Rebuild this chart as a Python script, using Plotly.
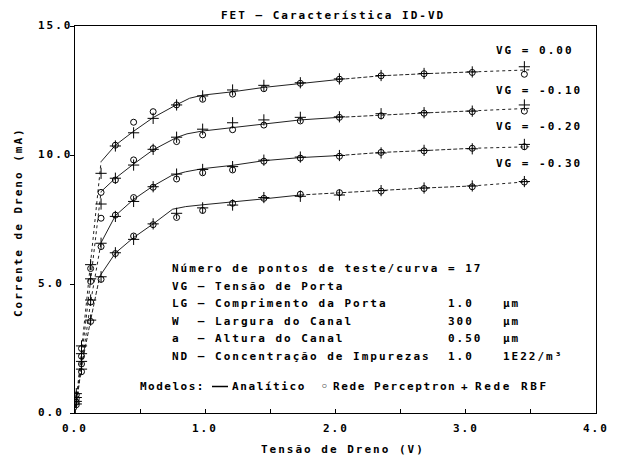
import plotly.graph_objects as go

# ---------------- data ----------------
vd_test = [0.01, 0.05, 0.12, 0.20, 0.31, 0.45, 0.60, 0.78, 0.98, 1.21, 1.45, 1.73, 2.03, 2.35, 2.68, 3.05, 3.45]

rbf_vg0 = [0.75, 2.6, 5.75, 9.29, 10.35, 10.86, 11.42, 11.94, 12.29, 12.52, 12.70, 12.80, 12.95, 13.08, 13.16, 13.22, 13.42]
per_vg0 = [0.70, 2.5, 5.60, 8.55, 10.38, 11.27, 11.68, 11.94, 12.16, 12.36, 12.57, 12.78, 12.94, 13.07, 13.15, 13.20, 13.13]
rbf_vg1 = [0.60, 2.3, 5.20, 8.10, 9.10, 9.61, 10.22, 10.69, 11.00, 11.25, 11.36, 11.46, 11.48, 11.60, 11.64, 11.70, 11.94]
per_vg1 = [0.55, 2.2, 5.10, 7.55, 9.03, 9.81, 10.25, 10.52, 10.78, 10.98, 11.16, 11.32, 11.46, 11.52, 11.62, 11.68, 11.70]
rbf_vg2 = [0.45, 2.0, 4.38, 6.58, 7.62, 8.20, 8.77, 9.26, 9.44, 9.55, 9.80, 9.92, 9.98, 10.08, 10.18, 10.24, 10.41]
per_vg2 = [0.42, 1.9, 4.30, 6.45, 7.67, 8.35, 8.75, 9.07, 9.31, 9.42, 9.76, 9.88, 9.95, 10.10, 10.16, 10.26, 10.32]
rbf_vg3 = [0.35, 1.7, 3.60, 5.28, 6.21, 6.73, 7.33, 7.74, 7.95, 8.06, 8.35, 8.40, 8.45, 8.62, 8.72, 8.80, 8.97]
per_vg3 = [0.32, 1.6, 3.55, 5.18, 6.18, 6.86, 7.30, 7.58, 7.85, 8.13, 8.32, 8.48, 8.54, 8.60, 8.70, 8.77, 8.95]

ana_v_vg0 = [0, 0.12, 0.20, 0.31, 0.45, 0.60, 0.78, 0.88, 0.98, 1.21, 1.45, 1.73, 2.03, 2.35, 2.68, 3.05, 3.49]
ana_i_vg0 = [0, 5.9, 9.74, 10.38, 10.92, 11.45, 11.95, 12.20, 12.32, 12.45, 12.62, 12.78, 12.93, 13.07, 13.15, 13.22, 13.30]
ana_v_vg1 = [0, 0.12, 0.20, 0.31, 0.45, 0.60, 0.78, 0.86, 0.98, 1.21, 1.45, 1.73, 2.03, 2.35, 2.68, 3.05, 3.49]
ana_i_vg1 = [0, 5.2, 8.58, 9.10, 9.65, 10.20, 10.68, 10.82, 10.93, 11.05, 11.20, 11.36, 11.46, 11.55, 11.63, 11.71, 11.81]
ana_v_vg2 = [0, 0.12, 0.20, 0.31, 0.45, 0.60, 0.74, 0.85, 0.98, 1.21, 1.45, 1.73, 2.03, 2.35, 2.68, 3.05, 3.49]
ana_i_vg2 = [0, 4.3, 6.60, 7.65, 8.28, 8.80, 9.20, 9.35, 9.47, 9.60, 9.78, 9.90, 9.98, 10.10, 10.17, 10.26, 10.32]
ana_v_vg3 = [0, 0.05, 0.12, 0.19, 0.31, 0.45, 0.60, 0.75, 0.85, 0.98, 1.21, 1.45, 1.73, 2.03, 2.35, 2.68, 3.05, 3.49]
ana_i_vg3 = [0, 1.8, 3.6, 5.30, 6.20, 6.80, 7.33, 7.90, 8.00, 8.07, 8.17, 8.30, 8.45, 8.54, 8.64, 8.72, 8.80, 8.97]

vg_labels = ["VG = 0.00", "VG = -0.10", "VG = -0.20", "VG = -0.30"]

x_tick_vals = [0, 0.5, 1, 1.5, 2, 2.5, 3, 3.5, 4]
x_tick_text = ["0.0", "", "1.0", "", "2.0", "", "3.0", "", "4.0"]
y_tick_vals = [0, 5, 10, 15]
y_tick_text = ["0.0", "5.0", "10.0", "15.0"]

title_text = "FET \u2014 Caracter\u00edstica ID-VD"
x_title = "Tens\u00e3o de Dreno (V)"
y_title = "Corrente de Dreno (mA)"

info_lines = ["N\u00famero de pontos de teste/curva = 17",
              "VG \u2014 Tens\u00e3o de Porta",
              "LG \u2014 Comprimento da Porta",
              "W\u00a0\u00a0\u2014 Largura do Canal",
              "a\u00a0\u00a0\u2014 Altura do Canal",
              "ND \u2014 Concentra\u00e7\u00e3o de Impurezas"]
info_values = ["", "", "1.0", "300", "0.50", "1.0"]
info_units = ["", "", "\u00b5m", "\u00b5m", "\u00b5m", "1E22/m\u00b3"]

# ---------------- layout geometry ----------------
OFF = 8  # page body margin
W, H = 621 - OFF, 456 - OFF
# plot box in page pixels
PL, PR, PT, PB = 75, 596, 26, 413
L, R, T, B = PL - OFF, PR - OFF, PT - OFF, PB - OFF
FONT_FAM = "DejaVu Sans Mono"
FS = 11
LS = 2.0


def sp(t, ls=LS):
    return '<span style="letter-spacing:%.1fpx">%s</span>' % (ls, t)


def px(xp):
    return (xp - PL) / (PR - PL)


def py(yp):
    return (PB - yp) / (PB - PT)


FONT = dict(family=FONT_FAM, size=FS, color="#000", weight="bold")


def ann(text, xp, yp, xanchor="left", angle=0, ls=LS):
    return dict(text=sp(text, ls), x=px(xp), y=py(yp), xref="paper", yref="paper",
                xanchor=xanchor, yanchor="middle", showarrow=False, textangle=angle,
                font=FONT)


fig = go.Figure()


def seg(v, i, a, b):
    xs, ys = [], []
    for vv, ii in zip(v, i):
        if a - 1e-9 <= vv <= b + 1e-9:
            xs.append(vv)
            ys.append(ii)
    return xs, ys


curves = [(ana_v_vg0, ana_i_vg0, 0.20, 2.03, "dot"),
          (ana_v_vg1, ana_i_vg1, 0.20, 2.03, "dot"),
          (ana_v_vg2, ana_i_vg2, 0.20, 2.03, "dot"),
          (ana_v_vg3, ana_i_vg3, 0.19, 1.73, "dash")]
for v, i, knee, dstart, first in curves:
    for a, b, dash in [(0, knee, first), (knee, dstart, "solid"), (dstart, 3.05, "dash"), (3.05, 4, "dot")]:
        xs, ys = seg(v, i, a, b)
        fig.add_trace(go.Scatter(x=xs, y=ys, mode="lines", showlegend=False, hoverinfo="skip",
                                 line=dict(color="#222", width=1, dash=dash if dash != "dash" else "4px,2px")))

for per in [per_vg0, per_vg1, per_vg2, per_vg3]:
    fig.add_trace(go.Scatter(x=vd_test, y=per, mode="markers", showlegend=False,
                             marker=dict(symbol="circle-open", size=6, color="#000", line=dict(width=1, color="#000"))))
for rbf in [rbf_vg0, rbf_vg1, rbf_vg2, rbf_vg3]:
    fig.add_trace(go.Scatter(x=vd_test, y=rbf, mode="markers", showlegend=False,
                             marker=dict(symbol="cross-thin", size=8, color="#000", line=dict(width=1, color="#000"))))

annotations = []
annotations.append(ann(title_text, 333, 15, "center"))
annotations.append(ann(x_title, 343, 449, "center"))
annotations.append(ann(y_title, 18, 222, "center", angle=-90))

for v, t in zip(x_tick_vals, x_tick_text):
    if t:
        annotations.append(dict(text=sp(t), x=v, y=0, xref="x", yref="paper", yshift=-15,
                                xanchor="center", yanchor="middle", showarrow=False, font=FONT))
for v, t in zip(y_tick_vals, y_tick_text):
    annotations.append(dict(text=sp(t), x=px(36), y=v, xref="paper", yref="y", yshift=1,
                            xanchor="left", yanchor="middle", showarrow=False, font=FONT))

vg_y = [50, 90, 127, 163]
for t, yy in zip(vg_labels, vg_y):
    annotations.append(ann(t, 494, yy))

info_y = [268, 286, 303.5, 321, 338.5, 356]
for line, val, unit, yy in zip(info_lines, info_values, info_units, info_y):
    annotations.append(ann(line, 170, yy))
    if val:
        annotations.append(ann(val, 446, yy))
    if unit:
        annotations.append(ann(unit, 501, yy))

ly = 386
annotations.append(ann("Modelos:", 138, ly, ls=1.5))
annotations.append(ann("Anal\u00edtico", 230, ly, ls=1.6))
annotations.append(ann("\u25e6", 325, ly, "center"))
annotations.append(ann("Rede Perceptron", 331, ly, ls=1.6))
annotations.append(ann("+", 465, ly, "center"))
annotations.append(ann("Rede RBF", 473, ly, ls=2.6))

shapes = [dict(type="line", xref="paper", yref="paper", x0=px(212), x1=px(228), y0=py(ly + 0.5), y1=py(ly + 0.5),
               line=dict(color="#000", width=1.5))]

fig.update_layout(
    width=W, height=H,
    margin=dict(l=L, r=W - R, t=T, b=H - B, pad=0),
    paper_bgcolor="white", plot_bgcolor="white",
    showlegend=False,
    annotations=annotations,
    shapes=shapes,
    xaxis=dict(range=[0, 4], showgrid=False, zeroline=False, showline=True, mirror=True,
               linecolor="#000", linewidth=1, ticks="inside", ticklen=4, tickcolor="#000",
               tickvals=x_tick_vals, showticklabels=False, fixedrange=True),
    yaxis=dict(range=[0, 15], showgrid=False, zeroline=False, showline=True, mirror=True,
               linecolor="#000", linewidth=1, ticks="outside", ticklen=4, tickcolor="#000",
               tickvals=y_tick_vals, showticklabels=False, fixedrange=True),
)

fig.write_html("out.html")
